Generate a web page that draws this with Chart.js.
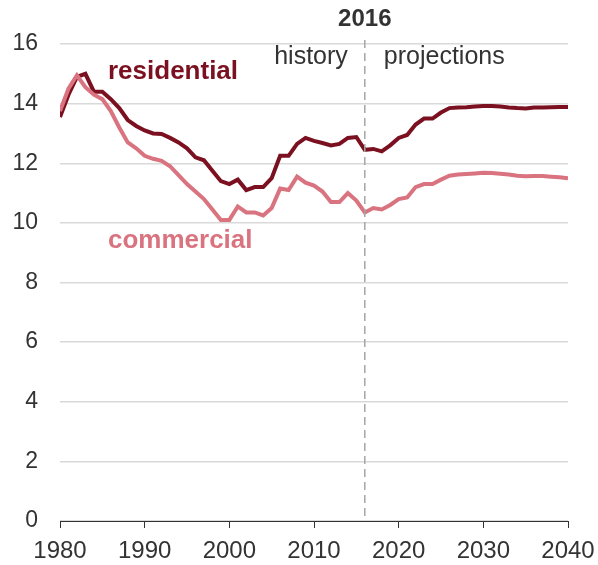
<!DOCTYPE html>
<html>
<head>
<meta charset="utf-8">
<script src="https://cdn.jsdelivr.net/npm/chart.js@4/dist/chart.umd.min.js"></script>
<style>
  html, body { margin: 0; padding: 0; background: #fff; }
  #wrap { width: 598px; height: 565px; position: relative; }
</style>
</head>
<body>
<div id="wrap"><canvas id="myChart" width="598" height="565"></canvas></div>
<script>
const years = [];
for (let y = 1980; y <= 2040; y++) years.push(y);

const residential = [
  13.55, 14.3, 14.9, 15.0, 14.4, 14.4, 14.15, 13.85, 13.45, 13.25,
  13.1, 13.0, 12.98, 12.85, 12.7, 12.5, 12.2, 12.1, 11.75, 11.4,
  11.3, 11.45, 11.1, 11.2, 11.2, 11.5, 12.25, 12.25, 12.65, 12.85,
  12.75, 12.68, 12.6, 12.65, 12.85, 12.88, 12.45, 12.48, 12.4, 12.6,
  12.85, 12.95, 13.3, 13.5, 13.5, 13.7, 13.85, 13.87, 13.88, 13.9,
  13.92, 13.92, 13.9, 13.87, 13.85, 13.84, 13.87, 13.87, 13.88, 13.89,
  13.89
];

const commercial = [
  13.75, 14.5, 14.95, 14.55, 14.3, 14.15, 13.75, 13.2, 12.7, 12.5,
  12.25, 12.15, 12.08, 11.9, 11.6, 11.3, 11.05, 10.8, 10.45, 10.1,
  10.1, 10.55, 10.35, 10.35, 10.25, 10.5, 11.15, 11.1, 11.55, 11.35,
  11.25, 11.05, 10.7, 10.7, 11.0, 10.75, 10.35, 10.5, 10.45, 10.6,
  10.8, 10.85, 11.2, 11.3, 11.3, 11.45, 11.58, 11.62, 11.64, 11.66,
  11.68, 11.67, 11.65, 11.62, 11.58, 11.56, 11.57, 11.57, 11.55, 11.53,
  11.5
];

const splitYear = 2016;
const FONT = "'Liberation Sans', Arial, sans-serif";
const TEXT = "#333333";

// dashed divider at the last history year plus the text labels
const annotations = {
  id: "annotations",
  afterDatasetsDraw(chart) {
    const { ctx, chartArea, scales } = chart;
    const x = scales.x.getPixelForValue(splitYear);
    ctx.save();
    ctx.strokeStyle = "#a6a6a6";
    ctx.lineWidth = 1.5;
    ctx.setLineDash([8, 5]);
    ctx.beginPath();
    ctx.moveTo(x, chartArea.top - 4);
    ctx.lineTo(x, chartArea.bottom);
    ctx.stroke();
    ctx.setLineDash([]);

    ctx.textBaseline = "middle";
    ctx.fillStyle = TEXT;
    ctx.font = "bold 24px " + FONT;
    ctx.textAlign = "center";
    ctx.fillText(String(splitYear), x, 19);

    ctx.font = "25px " + FONT;
    ctx.textAlign = "right";
    ctx.fillText("history", x - 17, 57);
    ctx.textAlign = "left";
    ctx.fillText("projections", x + 19, 57);

    ctx.font = "bold 26px " + FONT;
    ctx.fillStyle = "#7b1020";
    ctx.fillText("residential", 108, 72);
    ctx.fillStyle = "#d9737f";
    ctx.fillText("commercial", 108, 241);
    ctx.restore();
  }
};

new Chart(document.getElementById("myChart"), {
  type: "line",
  data: {
    labels: years,
    datasets: [
      {
        label: "commercial",
        data: commercial,
        borderColor: "#d9737f",
        borderWidth: 4,
        pointRadius: 0,
        tension: 0
      },
      {
        label: "residential",
        data: residential,
        borderColor: "#7b1020",
        borderWidth: 4,
        pointRadius: 0,
        tension: 0
      }
    ]
  },
  options: {
    responsive: false,
    animation: false,
    layout: { padding: { top: 44, right: 30, left: 0, bottom: 0 } },
    plugins: { legend: { display: false }, tooltip: { enabled: false } },
    scales: {
      x: {
        type: "linear",
        min: 1980,
        max: 2040,
        afterFit(scale) {
          scale.height = 44;
          scale.paddingLeft = 0;
          scale.paddingRight = 0;
        },
        ticks: {
          stepSize: 10,
          color: TEXT,
          font: { family: FONT, size: 24 },
          padding: 9,
          maxRotation: 0,
          callback: v => String(v)
        },
        grid: {
          drawOnChartArea: false,
          drawTicks: true,
          tickLength: 7,
          color: "#333333",
          lineWidth: 1
        },
        border: { display: true, color: "#333333", width: 1 }
      },
      y: {
        min: 0,
        max: 16,
        afterFit(scale) { scale.width = 60; },
        ticks: {
          stepSize: 2,
          color: TEXT,
          font: { family: FONT, size: 23 },
          padding: 22
        },
        grid: {
          drawTicks: false,
          color: "#d9d9d9",
          lineWidth: 1.5
        },
        border: { display: false }
      }
    }
  },
  plugins: [annotations]
});
</script>
</body>
</html>
